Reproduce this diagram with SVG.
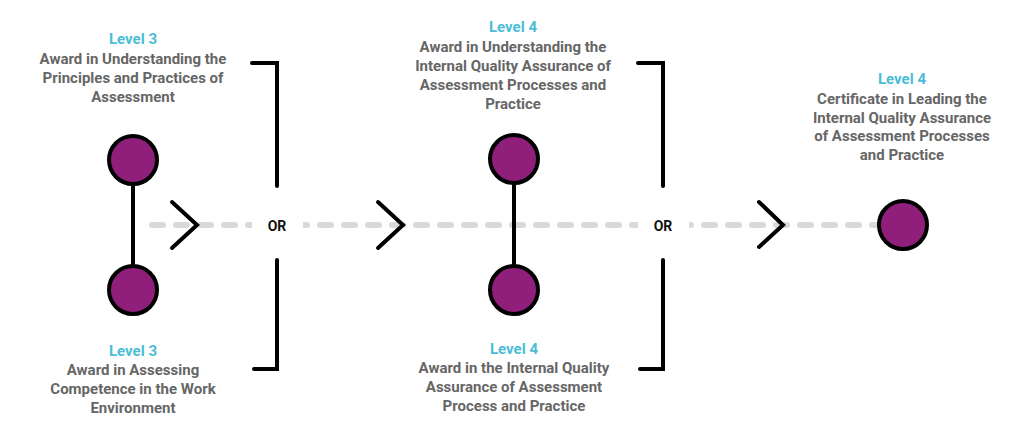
<svg xmlns="http://www.w3.org/2000/svg" width="1024" height="443" viewBox="0 0 1024 443">
<style>
.t{font-family:Roboto,"Liberation Sans",sans-serif;font-weight:700;font-size:15px;text-anchor:middle;fill:#666666}
.lv{fill:#4bbdd6}
.or{font-family:Roboto,"Liberation Sans",sans-serif;font-weight:700;font-size:14px;text-anchor:middle;fill:#111}
.dash{stroke:#d9d9d9;stroke-width:6;stroke-linecap:round;stroke-dasharray:11 13;fill:none}
.ln{stroke:#000;stroke-width:4;fill:none;stroke-linecap:round;stroke-linejoin:miter}
.node{fill:#901e7b;stroke:#000;stroke-width:4}
</style>
<rect width="1024" height="443" fill="#fff"/>
<g id="connectors">
<path class="dash" d="M152 225H880"/>
<rect x="252" y="194" width="51" height="64" fill="#fff"/>
<rect x="638" y="194" width="51" height="64" fill="#fff"/>
<path class="ln" d="M133 186V264"/>
<path class="ln" d="M514 185V265"/>
<path class="ln" d="M172 202L197 225L172 248"/>
<path class="ln" d="M378 202L403 225L378 248"/>
<path class="ln" d="M759 202L783 225L759 247"/>
<path class="ln" d="M252 63H277V186" stroke-linecap="butt"/>
<path class="ln" d="M277 260V369H254" stroke-linecap="butt"/>
<path class="ln" d="M638 63H663V186" stroke-linecap="butt"/>
<path class="ln" d="M663 260V369H640" stroke-linecap="butt"/>
<text class="or" x="277" y="231">OR</text>
<text class="or" x="663" y="231">OR</text>
</g>
<g id="n1">
<circle class="node" cx="133" cy="160" r="24"/>
<text class="t"><tspan class="lv" x="133" y="44">Level 3</tspan><tspan x="133" y="64">Award in Understanding the</tspan><tspan x="133" y="83">Principles and Practices of</tspan><tspan x="133" y="102">Assessment</tspan></text>
</g>
<g id="n2">
<circle class="node" cx="133" cy="290" r="24"/>
<text class="t"><tspan class="lv" x="133" y="356">Level 3</tspan><tspan x="133" y="375">Award in Assessing</tspan><tspan x="133" y="394">Competence in the Work</tspan><tspan x="133" y="413">Environment</tspan></text>
</g>
<g id="n3">
<circle class="node" cx="514" cy="159" r="24"/>
<text class="t"><tspan class="lv" x="513" y="32">Level 4</tspan><tspan x="513" y="52">Award in Understanding the</tspan><tspan x="513" y="71">Internal Quality Assurance of</tspan><tspan x="513" y="90">Assessment Processes and</tspan><tspan x="513" y="109">Practice</tspan></text>
</g>
<g id="n4">
<circle class="node" cx="514" cy="290" r="24"/>
<text class="t"><tspan class="lv" x="514" y="354">Level 4</tspan><tspan x="514" y="373">Award in the Internal Quality</tspan><tspan x="514" y="392">Assurance of Assessment</tspan><tspan x="514" y="411">Process and Practice</tspan></text>
</g>
<g id="n5">
<circle class="node" cx="903" cy="225" r="24"/>
<text class="t"><tspan class="lv" x="902" y="84">Level 4</tspan><tspan x="902" y="104">Certificate in Leading the</tspan><tspan x="902" y="123">Internal Quality Assurance</tspan><tspan x="902" y="141">of Assessment Processes</tspan><tspan x="902" y="160">and Practice</tspan></text>
</g>
</svg>
